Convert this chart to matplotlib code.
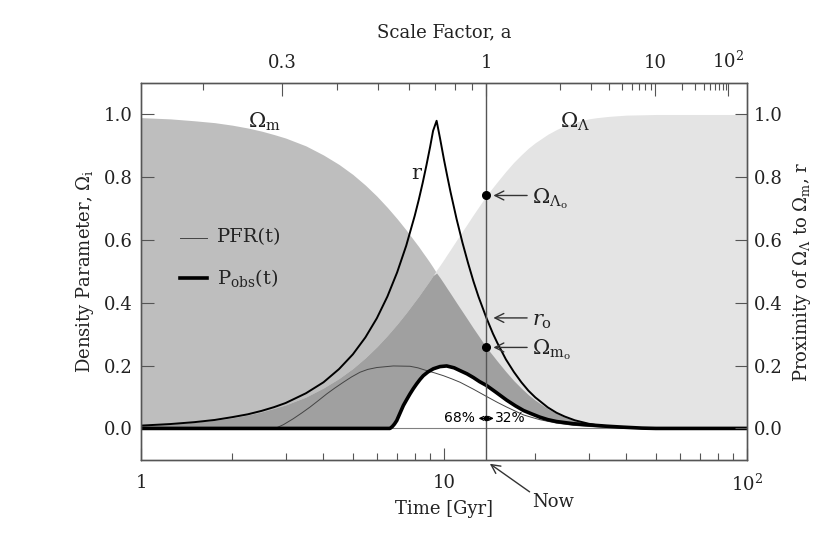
import numpy as np
import matplotlib.pyplot as plt
from matplotlib.ticker import NullFormatter, FormatStrFormatter

plt.rcParams['font.family'] = 'DejaVu Serif'
plt.rcParams['mathtext.fontset'] = 'dejavuserif'

# time grid [Gyr] and density parameters
t = [1, 1.25, 1.5, 1.75, 2, 2.25, 2.5, 2.75, 3,
     3.5, 4, 4.5, 5, 5.5, 6, 6.5, 7, 7.5, 8,
     8.25, 8.5, 8.75, 9, 9.2, 9.45, 9.7, 10, 10.25, 10.5,
     11, 11.5, 12, 12.5, 13, 13.8, 14.5, 15, 16, 17,
     18, 19, 20, 22, 23.5, 25, 27, 30, 32, 35,
     40, 45, 50, 60, 80, 100]
omega_L = [0.010, 0.014, 0.020, 0.026, 0.034, 0.043, 0.053, 0.064, 0.075,
           0.100, 0.129, 0.159, 0.191, 0.225, 0.260, 0.296, 0.332, 0.368, 0.404,
           0.421, 0.439, 0.456, 0.473, 0.487, 0.505, 0.520, 0.539, 0.555, 0.570,
           0.600, 0.628, 0.655, 0.681, 0.705, 0.742, 0.768, 0.786, 0.819, 0.848,
           0.872, 0.893, 0.910, 0.937, 0.952, 0.964, 0.975, 0.986, 0.990, 0.994,
           0.998, 0.999, 1.0, 1.0, 1.0, 1.0]
omega_m = [0.990, 0.986, 0.980, 0.974, 0.966, 0.957, 0.947, 0.936, 0.925,
           0.900, 0.871, 0.841, 0.809, 0.775, 0.740, 0.704, 0.668, 0.632, 0.596,
           0.579, 0.561, 0.544, 0.527, 0.513, 0.495, 0.480, 0.461, 0.445, 0.430,
           0.400, 0.372, 0.345, 0.319, 0.295, 0.258, 0.232, 0.214, 0.181, 0.152,
           0.128, 0.107, 0.090, 0.063, 0.048, 0.036, 0.025, 0.014, 0.010, 0.006,
           0.002, 0.001, 0.0, 0.0, 0.0, 0.0]
r = [0.009, 0.014, 0.020, 0.027, 0.036, 0.045, 0.056, 0.068, 0.081,
     0.112, 0.147, 0.189, 0.236, 0.290, 0.351, 0.420, 0.497, 0.582, 0.677,
     0.728, 0.782, 0.839, 0.898, 0.948, 0.980, 0.924, 0.855, 0.803, 0.754,
     0.667, 0.592, 0.527, 0.469, 0.419, 0.352, 0.302, 0.272, 0.220, 0.180,
     0.147, 0.120, 0.099, 0.067, 0.050, 0.038, 0.026, 0.015, 0.010, 0.006,
     0.002, 0.001, 0.0, 0.0, 0.0, 0.0]

# planet formation rate and observer age distribution
t_pfr = [1, 2.77, 2.95, 3.18, 3.4, 3.61, 3.85, 4.1, 4.35, 4.65, 4.95, 5.28, 5.6, 6.0,
         6.8, 7.72, 8.2, 8.77, 9.3, 9.95, 10.6, 11.3, 12.5, 13.8, 15, 16.1, 17.2, 18.3,
         19.5, 20.7, 23.5, 26.7, 30.4, 35, 40, 50, 100]
pfr = [0, 0, 0.012, 0.031, 0.050, 0.068, 0.089, 0.110, 0.128, 0.147, 0.164, 0.179, 0.188, 0.194,
       0.199, 0.198, 0.193, 0.184, 0.177, 0.168, 0.158, 0.147, 0.125, 0.102, 0.083, 0.068, 0.055, 0.043,
       0.035, 0.028, 0.017, 0.010, 0.006, 0.003, 0.001, 0, 0]
t_obs = [1, 6.63, 6.75, 6.86, 6.98, 7.15, 7.34, 7.53, 7.72, 7.92, 8.12, 8.33, 8.54, 8.85,
         9.22, 9.7, 10.2, 10.8, 11.3, 11.9, 12.5, 13.1, 13.8, 14.8, 16.1, 17.2, 18.3, 19.5,
         20.7, 22, 23.5, 26.7, 30.4, 34.5, 39, 45, 50, 100]
p_obs = [0, 0, 0.006, 0.014, 0.025, 0.048, 0.073, 0.092, 0.110, 0.127, 0.142, 0.156, 0.168, 0.180,
         0.190, 0.197, 0.199, 0.193, 0.184, 0.174, 0.162, 0.149, 0.137, 0.116, 0.090, 0.072, 0.057, 0.046,
         0.036, 0.028, 0.022, 0.015, 0.011, 0.007, 0.004, 0.001, 0, 0]

t_now = 13.8
omega_m0 = 0.26
a_major = [0.3, 1, 10, 100]
a_major_labels = ['0.3', '1', '10', '$10^2$']
a_minor = [0.2, 0.4, 0.5, 0.6, 0.7, 0.8, 0.9, 2, 3, 4, 5, 6, 7, 8, 9,
           20, 30, 40, 50, 60, 70, 80, 90]


def t_of_a(a):
    # flat LCDM age for scale factor a, normalised to t_now at a=1
    k = np.sqrt((1 - omega_m0) / omega_m0)
    return t_now * np.arcsinh(k * np.asarray(a) ** 1.5) / np.arcsinh(k)


txt = '#222222'
edge = '#555555'

fig = plt.figure(figsize=(8.3, 5.54), dpi=100)
ax = fig.add_axes([0.170, 0.170, 0.730, 0.680])
ax.set_xscale('log')
ax.set_xlim(1, 100)
ax.set_ylim(-0.1, 1.1)

om = np.array(omega_m)
ol = np.array(omega_L)
ax.fill_between(t, 0, om, color='#bebebe', lw=0)
ax.fill_between(t, 0, ol, color='#e4e4e4', lw=0)
ax.fill_between(t, 0, np.minimum(om, ol), color='#a0a0a0', lw=0)
ax.fill_between(t_obs, 0, p_obs, color='white', lw=0)

ax.axhline(0, color='#808080', lw=0.8)
ax.axvline(t_now, color='#555555', lw=1.0, zorder=4)
ax.plot(t_pfr, pfr, color='#444444', lw=0.7)
ax.plot(t_obs, p_obs, color='black', lw=2.6)
ax.plot(t, r, color='black', lw=1.4)

# present-day values
i_now = t.index(t_now)
ax.plot([t_now, t_now], [omega_L[i_now], omega_m[i_now]], 'o', color='black', ms=5.5, zorder=6)

arrow = dict(arrowstyle='->', color='#333333', lw=1.0, shrinkA=0, shrinkB=0, mutation_scale=16)
for yv, yb, lab in [(omega_L[i_now], 0.716, r'$\Omega_{\Lambda_{\rm o}}$'),
                    (r[i_now], 0.327, r'$r_{\rm o}$'),
                    (omega_m[i_now], 0.235, r'$\Omega_{{\rm m}_{\rm o}}$')]:
    ax.annotate('', xy=(14.55, yv), xytext=(18.8, yv), arrowprops=arrow)
    ax.text(19.45, yb, lab, fontsize=15, ha='left', va='baseline', color=txt)

ax.text(2.25, 0.957, r'$\Omega_{\rm m}$', fontsize=15, va='baseline', color=txt)
ax.text(24.2, 0.957, r'$\Omega_{\Lambda}$', fontsize=15, va='baseline', color=txt)
ax.text(7.82, 0.794, 'r', fontsize=15, va='baseline', color=txt)

# 68% <-> 32%
ax.text(12.66, 0.032, '68%', ha='right', va='center', fontsize=10, family='DejaVu Sans', color='black')
ax.text(14.73, 0.032, '32%', ha='left', va='center', fontsize=10, family='DejaVu Sans', color='black')
ax.annotate('', xy=(13.0, 0.032), xytext=(14.6, 0.032),
            arrowprops=dict(arrowstyle='<->', color='black', lw=0.9, shrinkA=0, shrinkB=0, mutation_scale=7))
ax.plot(t_now, 0.032, 'o', color='black', ms=3, zorder=6)

# Now
ax.annotate('', xy=(14.16, -0.1125), xytext=(19.16, -0.202), arrowprops=arrow, annotation_clip=False)
ax.text(22.9, -0.235, 'Now', ha='center', va='center', fontsize=13, color=txt, clip_on=False)

# legend
ax.plot([0.064, 0.109], [0.590, 0.590], transform=ax.transAxes, color='#444444', lw=0.7)
ax.text(0.125, 0.590, 'PFR(t)', transform=ax.transAxes, va='center', fontsize=14, color=txt)
ax.plot([0.064, 0.109], [0.482, 0.482], transform=ax.transAxes, color='black', lw=2.6)
ax.text(0.125, 0.482, r'P$_{\rm obs}$(t)', transform=ax.transAxes, va='center', fontsize=14, color=txt)

# bottom / left axes
ax.set_xticks([1, 10, 100], ['1', '10', '$10^2$'])
ax.xaxis.set_minor_formatter(NullFormatter())
ax.set_yticks([0, 0.2, 0.4, 0.6, 0.8, 1.0])
ax.yaxis.set_major_formatter(FormatStrFormatter('%.1f'))
ax.tick_params(which='major', direction='in', length=9, width=0.8, color=edge,
               labelsize=13, labelcolor=txt, top=False, right=False)
ax.tick_params(axis='x', which='major', pad=10)
ax.tick_params(axis='y', which='major', pad=6)
ax.tick_params(which='minor', direction='in', length=5, width=0.8, color=edge, top=False)
ax.set_xlabel('Time [Gyr]', fontsize=13, color=txt, labelpad=4)
ax.set_ylabel(r'Density Parameter, $\Omega_{\rm i}$', fontsize=13, color=txt, labelpad=6)
for s in ax.spines.values():
    s.set_color(edge)
    s.set_linewidth(0.9)

# top axis: scale factor
ax2 = ax.twiny()
ax2.set_xscale('log')
ax2.set_xlim(1, 100)
ax2.set_xticks(t_of_a(a_major), a_major_labels)
ax2.set_xticks(t_of_a(a_minor), minor=True)
ax2.xaxis.set_minor_formatter(NullFormatter())
ax2.tick_params(which='major', direction='in', length=9, width=0.8, color=edge,
                labelsize=13, labelcolor=txt, pad=8)
ax2.tick_params(which='minor', direction='in', length=5, width=0.8, color=edge)
ax2.set_xlabel('Scale Factor, a', fontsize=13, color=txt, labelpad=10)
for s in ax2.spines.values():
    s.set_color(edge)
    s.set_linewidth(0.9)

# right axis: proximity
ax3 = ax.twinx()
ax3.set_ylim(-0.1, 1.1)
ax3.set_yticks([0, 0.2, 0.4, 0.6, 0.8, 1.0])
ax3.yaxis.set_major_formatter(FormatStrFormatter('%.1f'))
ax3.tick_params(direction='in', length=9, width=0.8, color=edge, labelsize=13, labelcolor=txt, pad=5)
ax3.set_ylabel(r'Proximity of $\Omega_\Lambda$ to $\Omega_{\rm m}$, r', fontsize=13, color=txt, labelpad=6)
for s in ax3.spines.values():
    s.set_color(edge)
    s.set_linewidth(0.9)

fig.savefig('out.png', dpi=100)
